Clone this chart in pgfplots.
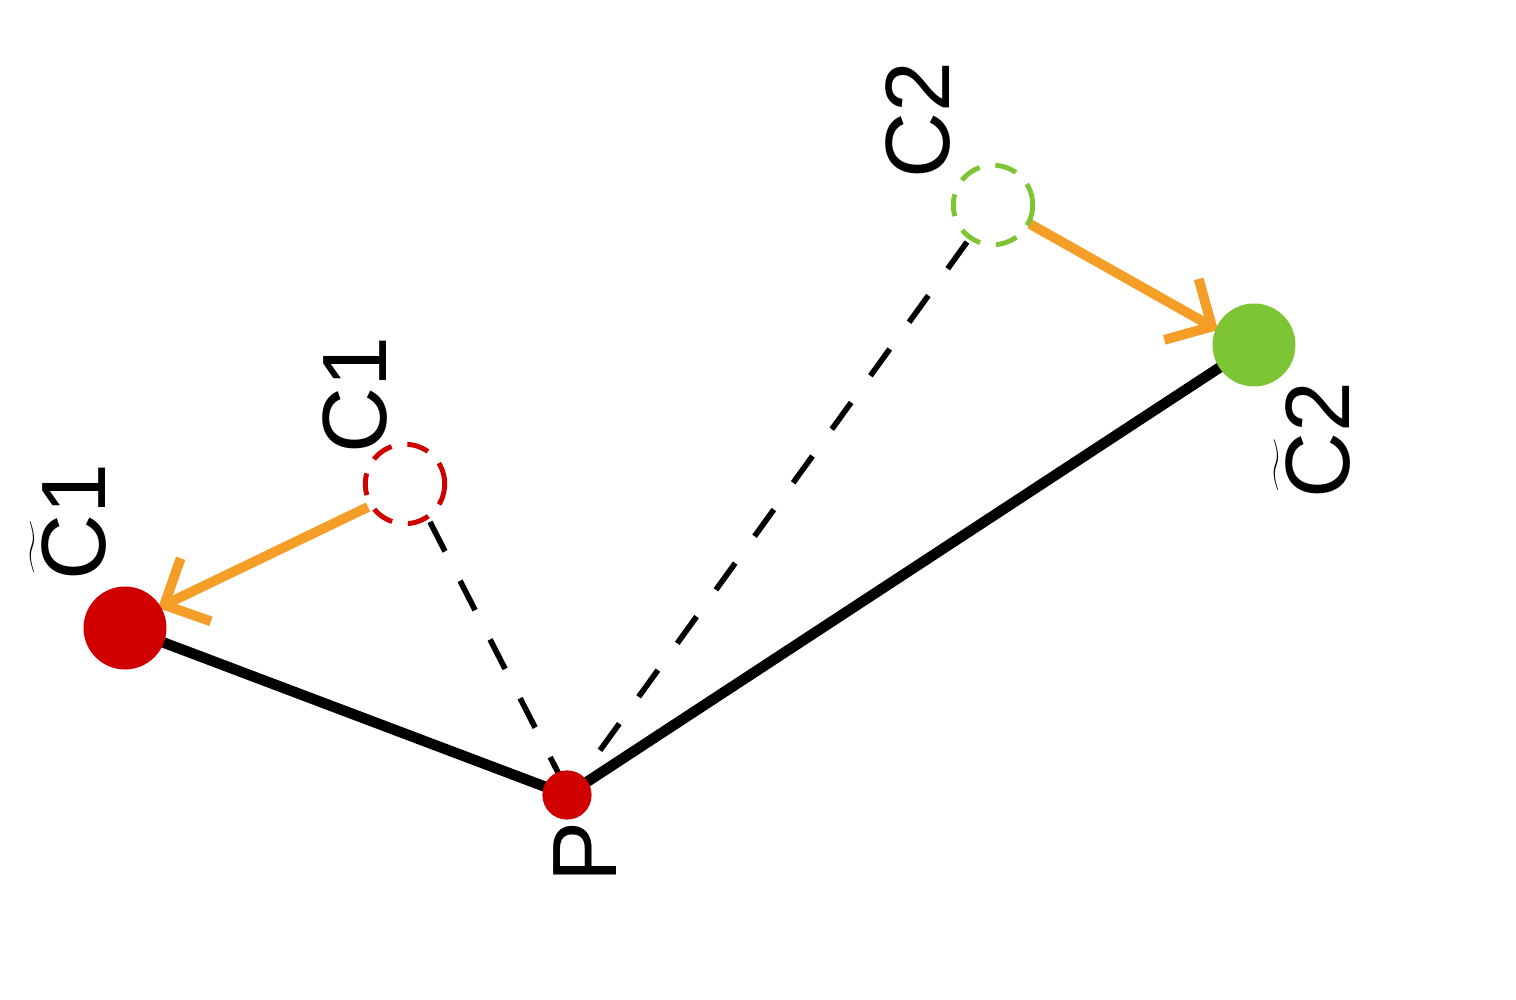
\documentclass[border=0pt]{standalone}
\usepackage{pgfplots}
\pgfplotsset{compat=1.18}
\usepackage{fontspec}
\setmainfont{Liberation Sans}
\usetikzlibrary{arrows.meta}
\definecolor{cred}{HTML}{D00000}
\definecolor{cgreen}{HTML}{7DC534}
\definecolor{corange}{HTML}{F59E27}
\begin{document}
\begin{tikzpicture}
\begin{axis}[scale only axis, width=15.16cm, height=10cm, xmin=0, xmax=1516, ymin=0, ymax=1000, hide axis, clip=false]
\path (axis cs:0,0) rectangle (axis cs:1516,1000);
% solid lines
\addplot[black, line width=3pt] coordinates {(125,372) (567,205) (1254,655)};
% dashed lines
\addplot[black, line width=1.6pt, dash pattern=on 3.3mm off 3.3mm] coordinates {(430,478) (567,210)};
\addplot[black, line width=1.6pt, dash pattern=on 3.3mm off 3.3mm] coordinates {(967,758) (575,215)};
% orange arrows
\addplot[corange, line width=2.8pt, -{Straight Barb[length=3.5mm,width=7mm,line width=2.8pt]}] coordinates {(368,493) (158,392)};
\addplot[corange, line width=2.8pt, -{Straight Barb[length=3.5mm,width=7mm,line width=2.8pt]}] coordinates {(1030,776) (1218,670)};
% dashed circles
\addplot[only marks, mark=*, mark size=11.3pt, mark options={draw=cred, fill=white, line width=1.4pt, dash pattern=on 2.2mm off 1.6mm}] coordinates {(405,516)};
\addplot[only marks, mark=*, mark size=11.3pt, mark options={draw=cgreen, fill=white, line width=1.4pt, dash pattern=on 2.2mm off 1.6mm}] coordinates {(993,795)};
% filled points
\addplot[only marks, mark=*, mark size=11.6pt, mark options={draw=cred, fill=cred}] coordinates {(125,372)};
\addplot[only marks, mark=*, mark size=11.6pt, mark options={draw=cgreen, fill=cgreen}] coordinates {(1254,655)};
\addplot[only marks, mark=*, mark size=6.8pt, mark options={draw=cred, fill=cred}] coordinates {(567,205)};
% labels
\node[rotate=90, font=\fontsize{26}{30}\selectfont] at (axis cs:585,148) {P};
\node[rotate=90, font=\fontsize{26}{30}\selectfont] at (axis cs:355,605) {C1};
\node[rotate=90, font=\fontsize{26}{30}\selectfont] at (axis cs:918,880) {C2};
\node[rotate=90, font=\fontsize{26}{30}\selectfont] at (axis cs:68,478) {$\widetilde{\mbox{C}}$1};
\node[rotate=90, font=\fontsize{26}{30}\selectfont] at (axis cs:1312,560) {$\widetilde{\mbox{C}}$2};
\end{axis}
\end{tikzpicture}
\end{document}
